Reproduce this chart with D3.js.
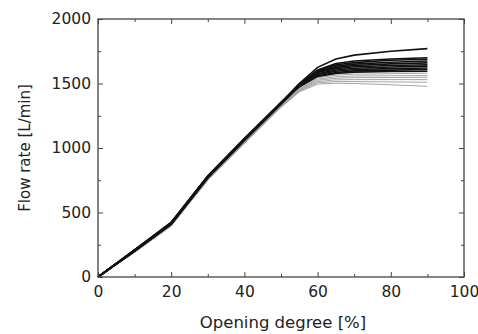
<!DOCTYPE html>
<html>
<head>
<meta charset="utf-8">
<script src="https://cdn.jsdelivr.net/npm/d3@7"></script>
<style>
  body { margin: 0; background: #fff; }
  svg text { font-family: "DejaVu Sans", sans-serif; fill: #222; }
</style>
</head>
<body>
<div id="chart"></div>
<script>
// opening degree [%]
var opening = [0, 10, 20, 30, 40, 50, 55, 60, 65, 70, 80, 90];

// black (heavier) runs
var dark1  = [0, 210, 420, 780, 1070, 1350, 1500, 1625, 1690, 1720, 1750, 1770];
var dark2  = [0, 205, 415, 775, 1065, 1350, 1495, 1605, 1655, 1675, 1690, 1700];
var dark3  = [0, 210, 420, 780, 1070, 1350, 1495, 1600, 1645, 1662, 1680, 1688];
var dark4  = [0, 200, 410, 770, 1060, 1345, 1490, 1595, 1635, 1650, 1665, 1675];
var dark5  = [0, 205, 415, 775, 1065, 1350, 1490, 1590, 1625, 1640, 1652, 1660];
var dark6  = [0, 210, 425, 785, 1075, 1355, 1490, 1585, 1615, 1630, 1640, 1645];
var dark7  = [0, 200, 410, 770, 1060, 1340, 1480, 1575, 1605, 1618, 1628, 1635];
var dark8  = [0, 205, 420, 780, 1070, 1350, 1480, 1570, 1595, 1608, 1615, 1620];
var dark9  = [0, 200, 410, 770, 1060, 1345, 1475, 1560, 1585, 1598, 1604, 1608];
var dark10 = [0, 210, 420, 780, 1070, 1350, 1475, 1555, 1578, 1588, 1593, 1595];

// grey (thin) runs
var grey1 = [0, 195, 400, 760, 1050, 1330, 1460, 1545, 1565, 1572, 1576, 1580];
var grey2 = [0, 200, 405, 765, 1055, 1335, 1455, 1535, 1552, 1558, 1560, 1562];
var grey3 = [0, 195, 400, 755, 1045, 1325, 1450, 1525, 1540, 1545, 1546, 1548];
var grey4 = [0, 190, 395, 750, 1040, 1320, 1445, 1515, 1528, 1530, 1530, 1530];
var grey5 = [0, 195, 400, 755, 1040, 1320, 1440, 1505, 1515, 1515, 1512, 1510];
var grey6 = [0, 190, 395, 750, 1035, 1315, 1435, 1495, 1502, 1500, 1490, 1478];

var darkRuns = [dark1, dark2, dark3, dark4, dark5, dark6, dark7, dark8, dark9, dark10];
var greyRuns = [grey1, grey2, grey3, grey4, grey5, grey6];

var xTicks = [0, 20, 40, 60, 80, 100];
var yTicks = [0, 500, 1000, 1500, 2000];

var W = 478, H = 334;
var margin = {top: 19, right: 14, bottom: 57, left: 98};
var width = W - margin.left - margin.right,
    height = H - margin.top - margin.bottom;

var svg = d3.select("#chart").append("svg")
    .attr("width", W)
    .attr("height", H);

var g = svg.append("g")
    .attr("transform", "translate(" + margin.left + "," + margin.top + ")");

var xScale = d3.scaleLinear().domain([0, 100]).range([0, width]);
var yScale = d3.scaleLinear().domain([0, 2000]).range([height, 0]);

var line = d3.line()
    .x(function(d, i) { return xScale(opening[i]); })
    .y(function(d) { return yScale(d); });

// grey runs underneath
g.selectAll(".grey")
    .data(greyRuns)
    .enter().append("path")
    .attr("class", "grey")
    .attr("d", line)
    .attr("fill", "none")
    .attr("stroke", "#9a9a9a")
    .attr("stroke-width", 0.9);

g.selectAll(".dark")
    .data(darkRuns)
    .enter().append("path")
    .attr("class", "dark")
    .attr("d", line)
    .attr("fill", "none")
    .attr("stroke", "#111")
    .attr("stroke-width", 1.6);

// frame
g.append("rect")
    .attr("width", width)
    .attr("height", height)
    .attr("fill", "none")
    .attr("stroke", "#444")
    .attr("stroke-width", 1.3);

function styleAxis(sel) {
    sel.select(".domain").remove();
    sel.selectAll("line").attr("stroke", "#444").attr("stroke-width", 1);
}

// minor ticks (inward, all four sides)
var xMinor = d3.range(10, 100, 20);
var yMinor = d3.range(250, 2000, 500);

g.append("g").attr("transform", "translate(0," + height + ")")
    .call(d3.axisTop(xScale).tickValues(xMinor).tickSize(3).tickFormat(""))
    .call(styleAxis);
g.append("g")
    .call(d3.axisBottom(xScale).tickValues(xMinor).tickSize(3).tickFormat(""))
    .call(styleAxis);
g.append("g")
    .call(d3.axisRight(yScale).tickValues(yMinor).tickSize(3).tickFormat(""))
    .call(styleAxis);
g.append("g").attr("transform", "translate(" + width + ",0)")
    .call(d3.axisLeft(yScale).tickValues(yMinor).tickSize(3).tickFormat(""))
    .call(styleAxis);

// major ticks
var fmt = d3.format("d");
var xAxis = g.append("g").attr("transform", "translate(0," + height + ")")
    .call(d3.axisBottom(xScale).tickValues(xTicks).tickFormat(fmt).tickSizeInner(-5).tickSizeOuter(0).tickPadding(9))
    .call(styleAxis);
xAxis.selectAll("text").style("font-size", "15.5px").attr("fill", "#222");

g.append("g")
    .call(d3.axisTop(xScale).tickValues(xTicks).tickSizeInner(-5).tickSizeOuter(0).tickFormat(""))
    .call(styleAxis);

var yAxis = g.append("g")
    .call(d3.axisLeft(yScale).tickValues(yTicks).tickFormat(fmt).tickSizeInner(-5).tickSizeOuter(0).tickPadding(7))
    .call(styleAxis);
yAxis.selectAll("text").style("font-size", "15.5px").attr("fill", "#222").attr("dy", "0.3em");

g.append("g").attr("transform", "translate(" + width + ",0)")
    .call(d3.axisRight(yScale).tickValues(yTicks).tickSizeInner(-5).tickSizeOuter(0).tickFormat(""))
    .call(styleAxis);

// axis titles
svg.append("text")
    .attr("x", 283)
    .attr("y", 328)
    .attr("text-anchor", "middle")
    .style("font-size", "16.5px")
    .text("Opening degree [%]");

svg.append("text")
    .attr("transform", "translate(30,148) rotate(-90)")
    .attr("text-anchor", "middle")
    .style("font-size", "15px")
    .text("Flow rate [L/min]");
</script>
</body>
</html>
